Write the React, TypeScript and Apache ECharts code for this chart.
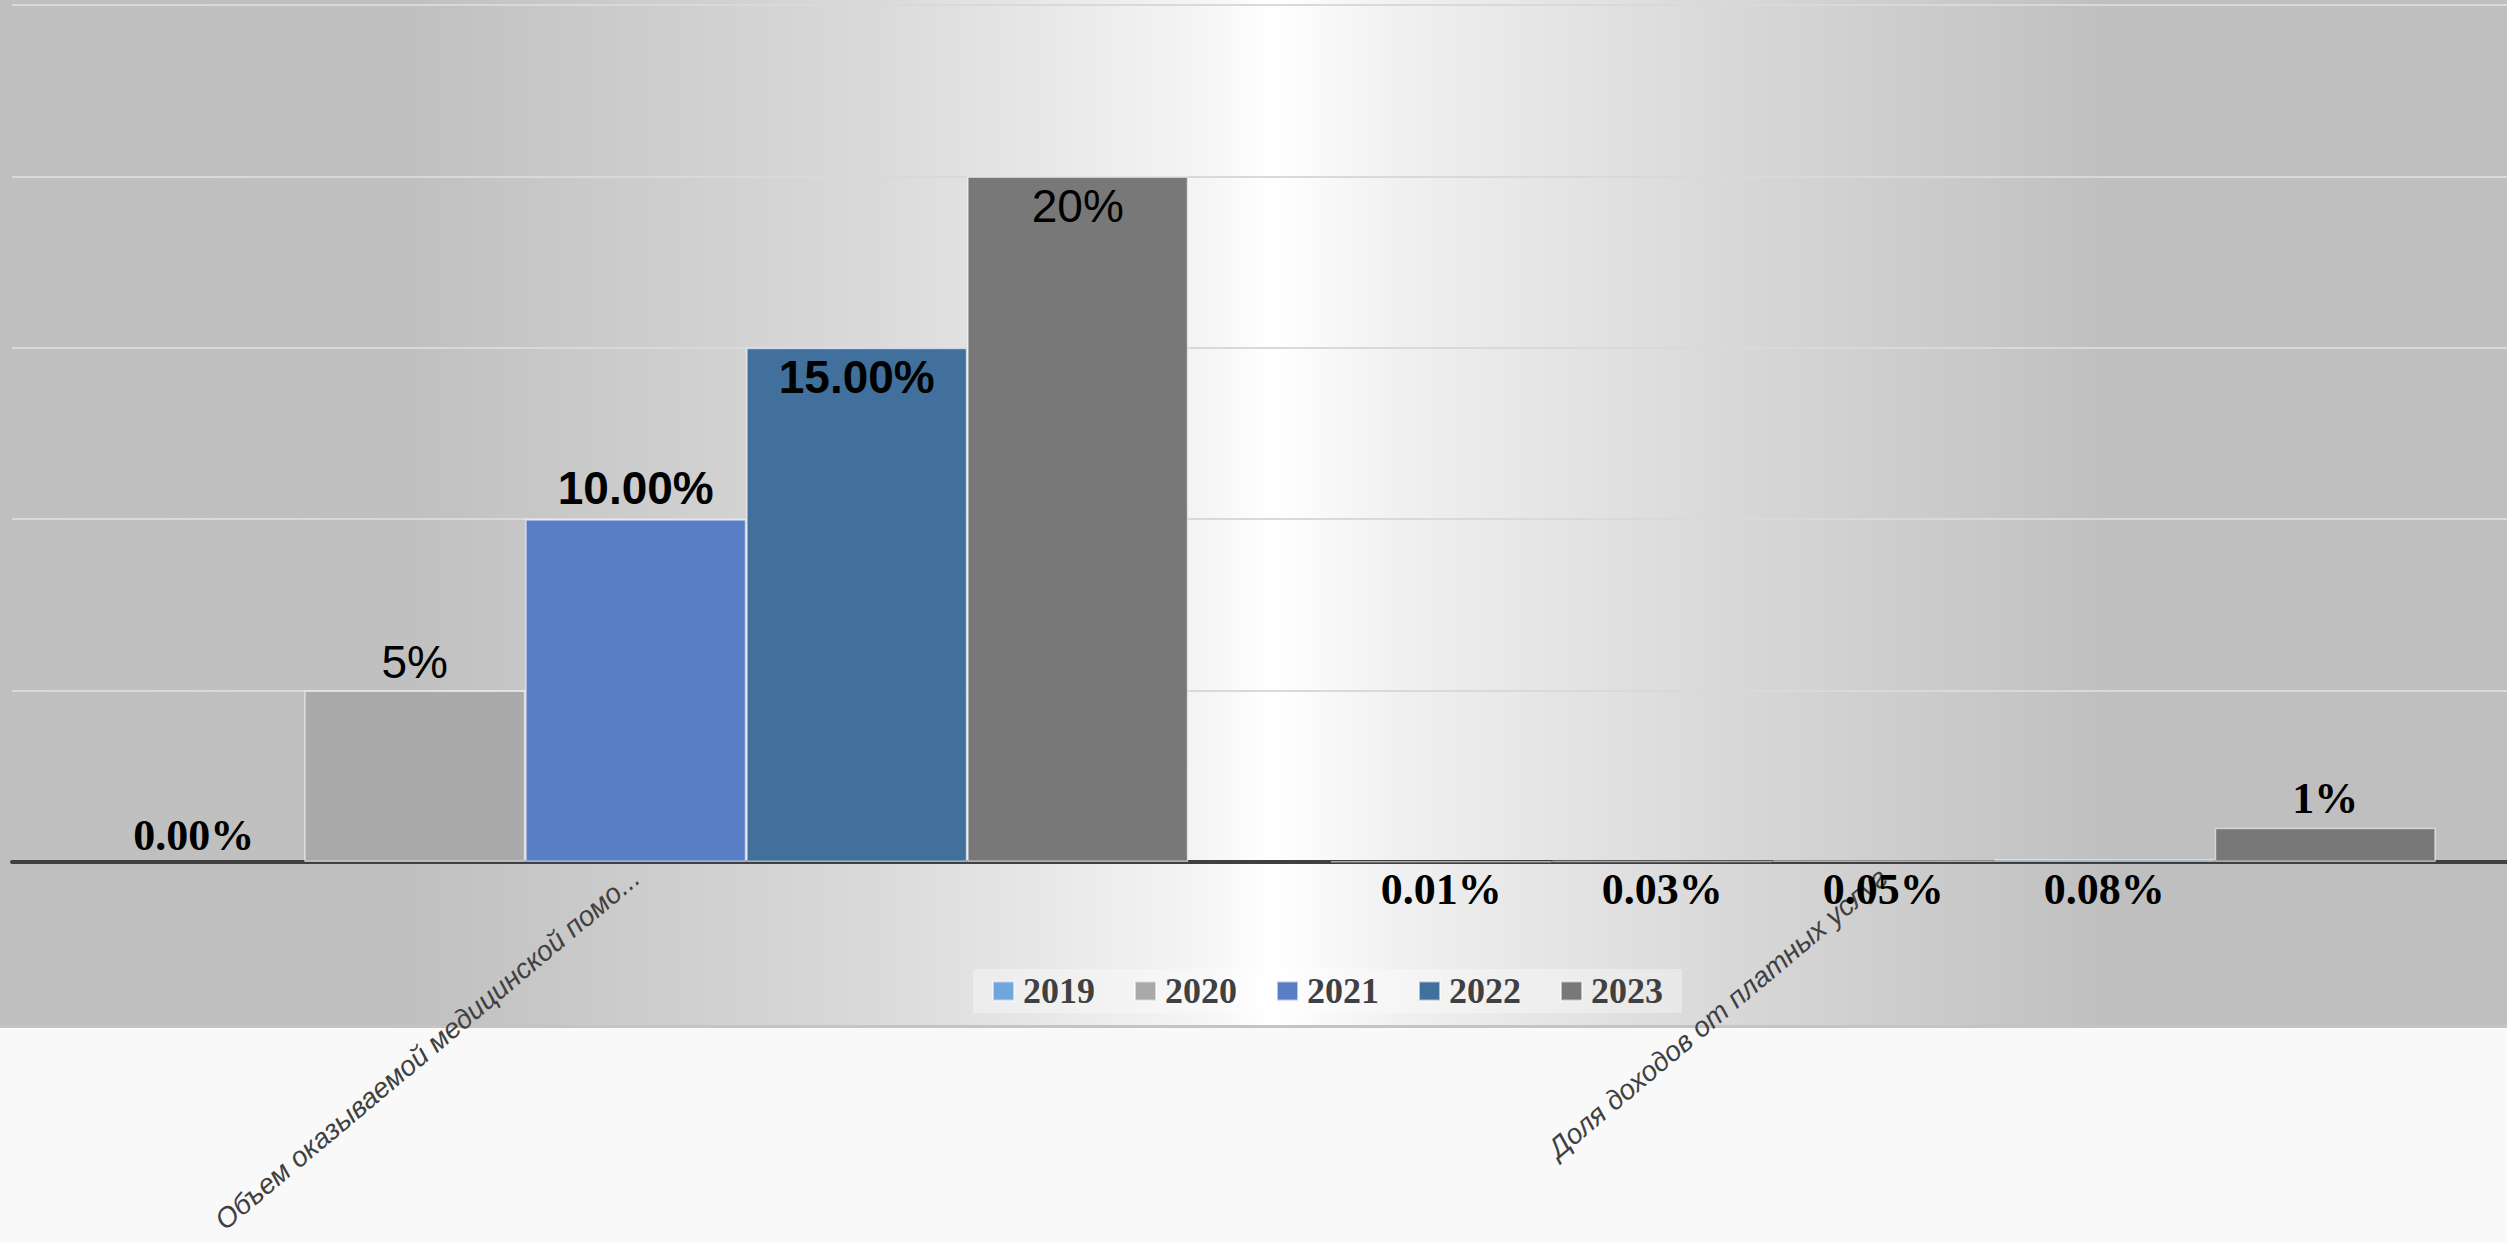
import React, { useEffect, useRef } from "react";
import * as echarts from "echarts";

const categories = ["Объем оказываемой медицинской помо...", "Доля доходов от платных услуг"];
const years = ["2019", "2020", "2021", "2022", "2023"];
const values2019 = [0, 0.0001];
const values2020 = [0.05, 0.0003];
const values2021 = [0.1, 0.0005];
const values2022 = [0.15, 0.0008];
const values2023 = [0.2, 0.01];
const seriesValues = [values2019, values2020, values2021, values2022, values2023];
// decimals shown in each data label
const labelDecimals = [
  [2, 2],
  [0, 2],
  [2, 2],
  [2, 2],
  [0, 0],
];
const colors = ["#6fa6db", "#a9a9a9", "#5a7ec6", "#41709c", "#787878"];

const SERIF = "'Liberation Serif', 'Times New Roman', serif";
const SANS = "'Liberation Sans', Arial, sans-serif";

// label style per series per category
const labelStyles: any[][] = [
  [
    { position: "top", distance: 5, fontFamily: SERIF, fontWeight: "bold", fontSize: 44 },
    { position: "bottom", distance: 5, fontFamily: SERIF, fontWeight: "bold", fontSize: 44 },
  ],
  [
    { position: "top", distance: 6, fontFamily: SANS, fontWeight: "normal", fontSize: 46 },
    { position: "bottom", distance: 5, fontFamily: SERIF, fontWeight: "bold", fontSize: 44 },
  ],
  [
    { position: "top", distance: 8, fontFamily: SANS, fontWeight: "bold", fontSize: 46 },
    { position: "bottom", distance: 5, fontFamily: SERIF, fontWeight: "bold", fontSize: 44 },
  ],
  [
    { position: "insideTop", distance: 6, fontFamily: SANS, fontWeight: "bold", fontSize: 46 },
    { position: "bottom", distance: 5, fontFamily: SERIF, fontWeight: "bold", fontSize: 44 },
  ],
  [
    { position: "insideTop", distance: 7, fontFamily: SANS, fontWeight: "normal", fontSize: 46 },
    { position: "top", distance: 7, fontFamily: SERIF, fontWeight: "bold", fontSize: 44 },
  ],
];

export default function App() {
  const ref = useRef<HTMLDivElement>(null);
  useEffect(() => {
    if (!ref.current) return;
    const chart = echarts.init(ref.current, null, { renderer: "svg" });
    const series = years.map((y, s) => ({
      name: y,
      type: "bar",
      barWidth: 221,
      barGap: "0%",
      itemStyle: {
        color: colors[s],
        borderColor: "rgba(255,255,255,0.55)",
        borderWidth: 1.5,
      },
      data: seriesValues[s].map((v, i) => ({
        value: v,
        itemStyle: v === 0 ? { borderWidth: 0 } : undefined,
        label: {
          show: true,
          color: "#000",
          ...labelStyles[s][i],
          formatter: () => (v * 100).toFixed(labelDecimals[s][i]) + "%",
        },
      })),
    }));
    chart.setOption({
      animation: false,
      backgroundColor: "#f9f9f9",
      graphic: [
        {
          type: "rect",
          z: -10,
          shape: { x: 0, y: 0, width: 2507, height: 1026 },
          style: {
            fill: {
              type: "linear",
              x: 0,
              y: 0,
              x2: 1,
              y2: 0,
              colorStops: [
                { offset: 0, color: "#bfbfbf" },
                { offset: 0.164, color: "#c0c0c0" },
                { offset: 0.35, color: "#dadada" },
                { offset: 0.48, color: "#f5f5f5" },
                { offset: 0.507, color: "#ffffff" },
                { offset: 0.56, color: "#f0f0f0" },
                { offset: 0.69, color: "#d8d8d8" },
                { offset: 0.82, color: "#c3c3c3" },
                { offset: 0.842, color: "#bfbfbf" },
                { offset: 1, color: "#bfbfbf" },
              ],
            },
          },
        },
        {
          type: "rect",
          z: -9,
          shape: { x: 0, y: 1025, width: 2507, height: 3 },
          style: { fill: "#c4c4c4" },
        },
      ],
      grid: { left: 12, top: 5, width: 2501, height: 857, containLabel: false },
      legend: {
        data: years,
        left: 973,
        top: 969,
        padding: [4, 19, 4, 19],
        itemWidth: 21,
        itemHeight: 19,
        itemGap: 39,
        backgroundColor: "rgba(255,255,255,0.35)",
        icon: "rect",
        textStyle: {
          fontFamily: SERIF,
          fontWeight: "bold",
          fontSize: 36,
          color: "#404040",
          padding: [0, 0, 0, 4],
        },
      },
      xAxis: {
        type: "category",
        data: categories,
        axisLine: { show: true, lineStyle: { color: "#404040", width: 4 } },
        axisTick: { show: false },
        axisLabel: {
          rotate: 40,
          margin: 12,
          interval: 0,
          color: "#404040",
          fontSize: 28,
          fontStyle: "italic",
          fontFamily: SANS,
        },
      },
      yAxis: {
        type: "value",
        min: 0,
        max: 0.25,
        interval: 0.05,
        axisLabel: { show: false },
        axisLine: { show: false },
        axisTick: { show: false },
        splitLine: { show: true, lineStyle: { color: "#d9d9d9", width: 2 } },
      },
      series,
    });
    return () => chart.dispose();
  }, []);
  return (
    <div
      ref={ref}
      style={{ position: "absolute", left: 0, top: 0, width: 2507, height: 1242 }}
    />
  );
}
